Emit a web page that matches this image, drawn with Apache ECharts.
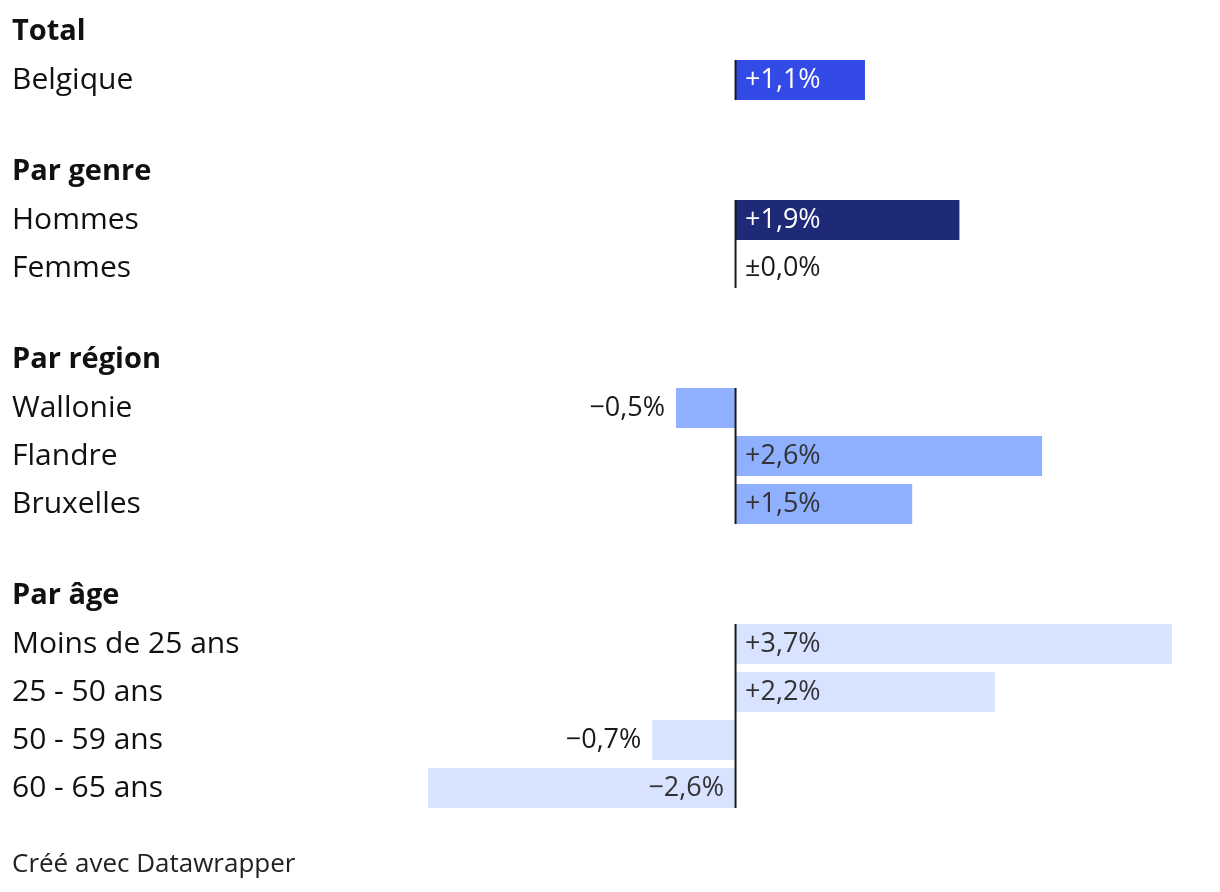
<!DOCTYPE html>
<html>
<head>
<meta charset="utf-8">
<script src="https://cdn.jsdelivr.net/npm/echarts@6/dist/echarts.min.js"></script>
<style>
html,body{margin:0;padding:0;background:#fff;}
#main{width:1220px;height:892px;}
</style>
</head>
<body>
<div id="main"></div>
<script>
// ---- data ----
const groupTitles = ['Total', 'Par genre', 'Par région', 'Par âge'];
const totalCats = ['Belgique'];
const totalVals = [1.1];
const genreCats = ['Hommes', 'Femmes'];
const genreVals = [1.9, 0.0];
const regionCats = ['Wallonie', 'Flandre', 'Bruxelles'];
const regionVals = [-0.5, 2.6, 1.5];
const ageCats = ['Moins de 25 ans', '25 - 50 ans', '50 - 59 ans', '60 - 65 ans'];
const ageVals = [3.7, 2.2, -0.7, -2.6];
const footerText = 'Créé avec Datawrapper';

// ---- styling ----
const FONT = '"Open Sans", "Noto Sans", sans-serif';
const ROW = 48, BAR = 40;
const groups = [
  {cats: totalCats, vals: totalVals, color: '#334ae6', inside: '#ffffff', top: 56},
  {cats: genreCats, vals: genreVals, color: '#1e2a78', inside: '#ffffff', top: 196},
  {cats: regionCats, vals: regionVals, color: '#8fb0ff', inside: '#333333', top: 384},
  {cats: ageCats, vals: ageVals, color: '#d8e3ff', inside: '#333333', top: 620}
];
const headerTops = [12, 152, 340, 576];

function fmt(v) {
  const s = Math.abs(v).toFixed(1).replace('.', ',');
  if (v > 0) return '+' + s + '%';
  if (v < 0) return '\u2212' + s + '%';
  return '\u00b1' + s + '%';
}
function labelFor(v, insideColor) {
  if (v > 0) return {position: 'insideLeft', distance: 10, color: insideColor};
  if (v === 0) return {position: 'right', distance: 10, color: '#1a1a1a'};
  if (-v < 0.8) return {position: 'left', distance: 11, color: '#1a1a1a'};
  return {position: 'insideRight', distance: 11, color: insideColor};
}

const grid = [], xAxis = [], yAxis = [], series = [], title = [];
groups.forEach((g, gi) => {
  grid.push({left: 428, right: 48, top: g.top, height: g.cats.length * ROW, containLabel: false});
  xAxis.push({gridIndex: gi, type: 'value', min: -2.6, max: 3.7, show: false});
  yAxis.push({
    gridIndex: gi, type: 'category', data: g.cats, inverse: true,
    axisLine: {show: false, onZero: false}, axisTick: {show: false}, splitLine: {show: false},
    axisLabel: {align: 'left', margin: 416, fontFamily: FONT, fontSize: 30, color: '#111111'}
  });
  series.push({
    type: 'bar', xAxisIndex: gi, yAxisIndex: gi, barWidth: BAR,
    data: g.vals.map(v => ({
      value: v,
      itemStyle: {color: g.color},
      label: Object.assign({show: true, fontFamily: FONT, fontSize: 27, formatter: p => fmt(p.value)}, labelFor(v, g.inside))
    })),
    z: 2
  });
  const n = g.cats.length;
  series.push({
    type: 'custom', xAxisIndex: gi, yAxisIndex: gi, z: 5, silent: true,
    encode: {x: 0, y: 1},
    data: g.cats.map((c, i) => [0, i]),
    renderItem: function (params, api) {
      const i = params.dataIndex;
      const c = api.coord([0, api.value(1)]);
      const band = api.size([0, 1])[1];
      const pad = (band - BAR) / 2;
      const y0 = c[1] - band / 2 + (i === 0 ? pad : 0);
      const y1 = c[1] + band / 2 - (i === n - 1 ? pad : 0);
      return {type: 'rect', shape: {x: c[0] - 0.5, y: y0, width: 2, height: y1 - y0}, style: {fill: '#1a1a1a'}};
    }
  });
  title.push({
    text: groupTitles[gi], left: 12, top: headerTops[gi], padding: 0,
    textStyle: {fontFamily: FONT, fontSize: 29, fontWeight: 'bold', color: '#111111', lineHeight: 40}
  });
});
title.push({
  text: footerText, left: 12, top: 850, padding: 0,
  textStyle: {fontFamily: FONT, fontSize: 26, fontWeight: 'normal', color: '#222222', lineHeight: 30}
});

const chart = echarts.init(document.getElementById('main'), null, {renderer: 'canvas'});
chart.setOption({animation: false, backgroundColor: '#ffffff', title, grid, xAxis, yAxis, series});
</script>
</body>
</html>
